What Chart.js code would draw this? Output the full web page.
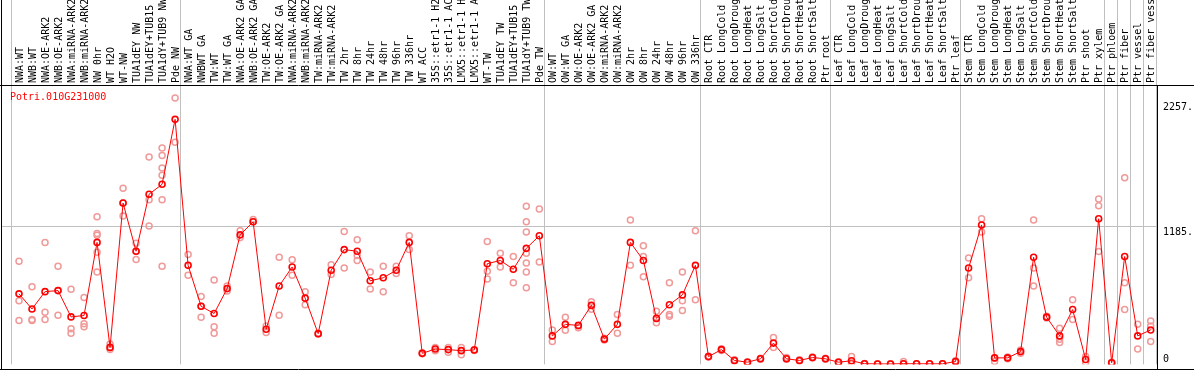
<!DOCTYPE html>
<html>
<head>
  <meta charset="UTF-8" />
  <title>Potri.010G231000</title>
  <script src="https://cdn.jsdelivr.net/npm/chart.js"></script>
  <style>
    body { margin: 0; background: #fff; }
  </style>
</head>
<body>
  <canvas id="expr" width="1194" height="370"></canvas>

  <script>
    // sample names (cut to what fits in the header)
    const labels = [
      'NWA:WT', 'NWB:WT', 'NWA:OE-ARK2', 'NWB:OE-ARK2', 'NWA:miRNA-ARK2', 'NWB:miRNA-ARK2',
      'NW 0hr', 'WT H2O', 'WT-NW', 'TUA1dEY NW', 'TUA1dEY+TUB15', 'TUA1dY+TUB9 NW', 'Pde NW',
      'NWA:WT GA', 'NWBWT GA', 'TW:WT', 'TW:WT GA', 'NWA:OE-ARK2 GA', 'NWB:OE-ARK2 GA',
      'TW:OE-ARK2', 'TW:OE-ARK2 GA', 'NWA:miRNA-ARK2', 'NWB:miRNA-ARK2', 'TW:miRNA-ARK2',
      'TW:miRNA-ARK2', 'TW 2hr', 'TW 8hr', 'TW 24hr', 'TW 48hr', 'TW 96hr', 'TW 336hr',
      'WT ACC', '35S::etr1-1 H2', '35S::etr1-1 AC', 'LMX5::etr1-1 H', 'LMX5::etr1-1 A',
      'WT-TW', 'TUA1dEY TW', 'TUA1dEY+TUB15', 'TUA1dY+TUB9 TW', 'Pde TW',
      'OW:WT', 'OW:WT GA', 'OW:OE-ARK2', 'OW:OE-ARK2 GA', 'OW:miRNA-ARK2', 'OW:miRNA-ARK2',
      'OW 2hr', 'OW 8hr', 'OW 24hr', 'OW 48hr', 'OW 96hr', 'OW 336hr',
      'Root CTR', 'Root LongCold', 'Root LongDroug', 'Root LongHeat', 'Root LongSalt',
      'Root ShortCold', 'Root ShortDrou', 'Root ShortHeat', 'Root ShortSalt', 'Ptr root',
      'Leaf CTR', 'Leaf LongCold', 'Leaf LongDroug', 'Leaf LongHeat', 'Leaf LongSalt',
      'Leaf ShortCold', 'Leaf ShortDrou', 'Leaf ShortHeat', 'Leaf ShortSalt', 'Ptr leaf',
      'Stem CTR', 'Stem LongCold', 'Stem LongDroug', 'Stem LongHeat', 'Stem LongSalt',
      'Stem ShortCold', 'Stem ShortDrou', 'Stem ShortHeat', 'Stem ShortSalt', 'Ptr shoot',
      'Ptr xylem', 'Ptr phloem', 'Ptr fiber', 'Ptr vessel', 'Ptr fiber vess'
    ];

    // mean expression per sample
    const means = [
      602, 472, 621, 630, 404, 416, 1044, 142, 1382, 968, 1458, 1543, 2101,
      847, 495, 433, 647, 1109, 1221, 298, 669, 833, 565, 260, 805, 982, 968, 714, 740, 805, 1044,
      91, 128, 123, 114, 120, 861, 889, 813, 993, 1101,
      241, 340, 331, 503, 213, 340, 1044, 889, 391, 509, 593, 847,
      63, 123, 30, 15, 44, 179, 44, 30, 55, 44,
      15, 27, 2, 0, 0, 2, 1, 1, 1, 21,
      824, 1194, 52, 52, 106, 917, 402, 241, 467, 38, 1247,
      10, 923, 241, 292
    ];

    // replicate values per sample
    const reps = [
      [881, 543, 374], [664, 382, 374], [1044, 444, 382], [839, 630, 418], [641, 303, 264],
      [571, 345, 320], [1264, 1120, 1106, 959, 790], [171, 123, 139], [1509, 1270, 1382],
      [1036, 898, 968], [1777, 1410, 1185], [1855, 1790, 1684, 1621, 1410, 839], [2284, 1904],
      [940, 762], [579, 402, 495], [720, 320, 264], [669, 627], [1143, 1086], [1241, 1221],
      [325, 269], [917, 418], [894, 762], [621, 509], [262, 258], [852, 768], [1137, 824],
      [1067, 932, 889], [790, 644], [839, 621], [839, 776], [1101, 982],
      [95, 88], [142, 114], [142, 100], [142, 78], [125, 115],
      [1052, 796, 729], [951, 833], [923, 697], [1354, 1221, 1134, 951, 866, 790, 655], [1331, 875],
      [292, 193], [402, 289], [311, 327], [470, 535], [220, 205], [424, 264],
      [1236, 847], [1016, 923, 748], [452, 353], [697, 424, 410], [790, 543, 458], [1143, 551],
      [60, 66], [115, 130], [25, 35], [12, 18], [40, 48], [227, 142], [40, 55], [25, 35], [50, 60], [40, 48],
      [12, 18], [63, 5], [1, 3], [0, 1], [0, 1], [21, 0], [0, 1], [0, 1], [0, 1], [15, 27],
      [909, 740], [1247, 1134], [21, 52], [45, 59], [120, 92], [1236, 824, 669], [395, 409],
      [306, 213, 184], [551, 382], [63, 13], [1416, 1359, 965],
      [5, 15], [1599, 697, 467], [340, 128], [368, 325, 193]
    ];

    // right hand tick values
    const yTicks = [2257, 1185, 0];
    const yTickText = ['2257.', '1185.', '0'];

    // group separators: number of samples before each line
    const groupEnds = [0, 13, 41, 53, 63, 73, 84, 85, 86, 87, 88];

    const geneName = 'Potri.010G231000';
    const mono = 'DejaVu Sans Mono';

    // replicates go on a hidden numeric axis (sample names repeat)
    const repPoints = reps.flatMap((arr, i) => arr.map(v => ({ x: i, y: v })));

    // frame, group lines, gene name and right tick labels
    const framePlugin = {
      id: 'frame',
      beforeDatasetsDraw(chart) {
        const { ctx, chartArea: a, scales: { x, y } } = chart;
        ctx.save();
        ctx.strokeStyle = '#c0c0c0';
        ctx.lineWidth = 1;

        const gy = Math.round(y.getPixelForValue(1185)) + 0.5;
        ctx.beginPath();
        ctx.moveTo(1, gy);
        ctx.lineTo(1157, gy);
        ctx.stroke();

        const half = (x.getPixelForValue(1) - x.getPixelForValue(0)) / 2;
        groupEnds.forEach(n => {
          let px;
          if (n === 0) px = x.getPixelForValue(0) - half;
          else px = x.getPixelForValue(n - 1) + half;
          px = Math.round(px - 1.6) + 0.5;
          ctx.beginPath();
          ctx.moveTo(px, 0);
          ctx.lineTo(px, a.bottom);
          ctx.stroke();
        });
        ctx.restore();
      },
      afterDraw(chart) {
        const { ctx, chartArea: a, scales: { y } } = chart;
        ctx.save();
        ctx.strokeStyle = '#000';
        ctx.lineWidth = 1;
        ctx.beginPath();
        ctx.moveTo(0, 85.5); ctx.lineTo(1194, 85.5);
        ctx.moveTo(0, 369.5); ctx.lineTo(1194, 369.5);
        ctx.moveTo(1.5, 0); ctx.lineTo(1.5, 370);
        ctx.moveTo(1157.5, 85); ctx.lineTo(1157.5, 370);
        ctx.stroke();

        ctx.font = '10px "' + mono + '"';
        ctx.textBaseline = 'top';
        ctx.textAlign = 'left';
        ctx.fillStyle = 'red';
        ctx.fillText(geneName, 10, 92);

        ctx.fillStyle = '#000';
        yTicks.forEach((v, i) => {
          const top = Math.min(y.getPixelForValue(v) + 1.5, a.bottom - 10);
          ctx.fillText(yTickText[i], 1163, top);
        });
        ctx.restore();
      }
    };

    new Chart(document.getElementById('expr'), {
      type: 'line',
      data: {
        labels: labels,
        datasets: [
          {
            label: 'replicates',
            data: repPoints,
            xAxisID: 'x2',
            showLine: false,
            order: 2,
            pointRadius: 3,
            pointBorderWidth: 1.5,
            pointBorderColor: '#f09a9a',
            pointBackgroundColor: 'rgba(0,0,0,0)'
          },
          {
            label: 'mean',
            data: means,
            xAxisID: 'x',
            order: 1,
            borderColor: '#ff0000',
            borderWidth: 1,
            tension: 0,
            pointRadius: 3,
            pointBorderWidth: 1.6,
            pointBorderColor: '#ff0000',
            pointBackgroundColor: 'rgba(0,0,0,0)'
          }
        ]
      },
      options: {
        responsive: false,
        animation: false,
        devicePixelRatio: 1,
        layout: { padding: { left: 12.5, right: 0, top: 0, bottom: 1 } },
        plugins: {
          legend: { display: false },
          tooltip: { enabled: false }
        },
        scales: {
          x: {
            type: 'category',
            position: 'top',
            offset: true,
            grid: { display: false, drawTicks: false },
            border: { display: false },
            ticks: {
              autoSkip: false,
              minRotation: 90,
              maxRotation: 90,
              padding: 2,
              labelOffset: 13,
              color: '#000',
              font: { family: mono, size: 10 }
            },
            afterFit(scale) { scale.height = 85; }
          },
          x2: {
            type: 'linear',
            display: false,
            min: -0.5,
            max: labels.length - 0.5
          },
          y: {
            position: 'right',
            min: -4,
            max: 2396,
            grid: { display: false },
            border: { display: false },
            ticks: { display: false },
            afterFit(scale) { scale.width = 36.8; }
          }
        }
      },
      plugins: [framePlugin]
    });
  </script>
</body>
</html>
